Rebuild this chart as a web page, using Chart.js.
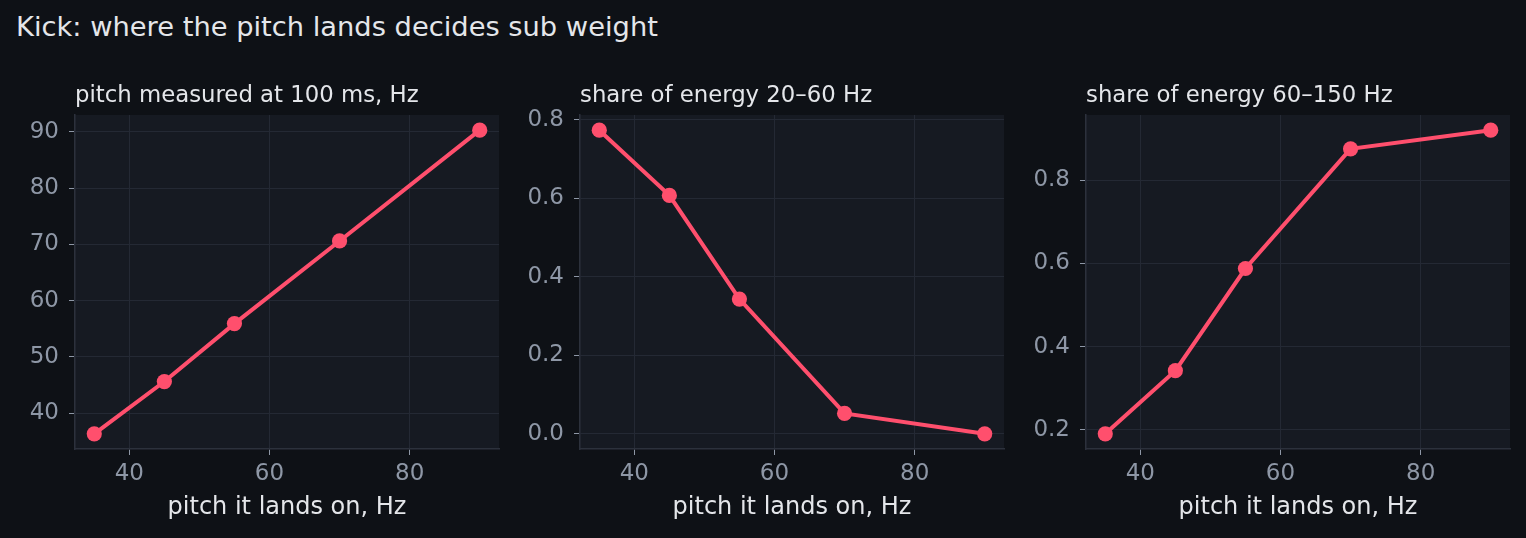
<!DOCTYPE html>
<html>
<head>
<meta charset="utf-8">
<script src="https://cdn.jsdelivr.net/npm/chart.js@4.4.1/dist/chart.umd.min.js"></script>
<style>
  body { margin: 0; background: #0e1116; width: 1526px; height: 538px; overflow: hidden; position: relative; font-family: "DejaVu Sans", sans-serif; }
  #title { position: absolute; left: 16px; top: 11px; font-size: 27.3px; line-height: 32px; color: #e4e6ea; white-space: nowrap; }
  .panel { position: absolute; top: 70px; width: 510px; height: 468px; }
</style>
</head>
<body>
<div id="title">Kick: where the pitch lands decides sub weight</div>
<div class="panel" style="left:0px"><canvas id="c1"></canvas></div>
<div class="panel" style="left:505px"><canvas id="c2"></canvas></div>
<div class="panel" style="left:1011px"><canvas id="c3"></canvas></div>
<script>
// data
const pitchLanded = [35, 45, 55, 70, 90];
const pitchAt100ms = [36.3, 45.6, 55.9, 70.6, 90.3];
const shareSub = [0.773, 0.607, 0.343, 0.052, 0.0];
const shareLow = [0.190, 0.342, 0.588, 0.876, 0.921];

const xTicks = [40, 60, 80];
const yTicks1 = [40, 50, 60, 70, 80, 90];
const yTicks2 = [0, 0.2, 0.4, 0.6, 0.8];
const yTicks3 = [0.2, 0.4, 0.6, 0.8];

const panelTitles = ['pitch measured at 100 ms, Hz', 'share of energy 20\u201360 Hz', 'share of energy 60\u2013150 Hz'];
const xLabel = 'pitch it lands on, Hz';

const LINE = '#ff4f6d';
const TICK_TXT = '#8e97a6';
const GRID = '#242934';

Chart.defaults.font.family = '"DejaVu Sans", sans-serif';

// matplotlib-like 5% margins
function padRange(vals) {
  const lo = Math.min(...vals), hi = Math.max(...vals);
  const m = (hi - lo) * 0.05;
  return [lo - m, hi + m];
}

const panelBg = {
  id: 'panelBg',
  beforeDraw(chart) {
    const a = chart.chartArea, ctx = chart.ctx;
    ctx.save();
    ctx.fillStyle = '#161a22';
    ctx.fillRect(a.left, a.top, a.right - a.left, a.bottom - a.top);
    ctx.restore();
  },
  afterDraw(chart, args, opts) {
    const a = chart.chartArea, ctx = chart.ctx;
    ctx.save();
    ctx.font = '22.8px "DejaVu Sans"';
    ctx.fillStyle = '#e4e6ea';
    ctx.textBaseline = 'alphabetic';
    ctx.fillText(opts.text, a.left, a.top - 13);
    ctx.restore();
  }
};

function makePanel(id, yVals, yTicks, title, fmt) {
  const xr = padRange(pitchLanded);
  const yr = padRange(yVals);
  return new Chart(document.getElementById(id), {
    type: 'line',
    data: {
      datasets: [{
        data: pitchLanded.map((x, i) => ({ x: x, y: yVals[i] })),
        borderColor: LINE,
        backgroundColor: LINE,
        borderWidth: 4,
        pointRadius: 7.6,
        pointBorderWidth: 0,
        pointBackgroundColor: LINE,
        tension: 0
      }]
    },
    options: {
      responsive: true,
      maintainAspectRatio: false,
      animation: false,
      layout: { padding: { top: 45, right: 11, left: 0, bottom: 0 } },
      plugins: {
        legend: { display: false },
        tooltip: { enabled: false },
        panelBg: { text: title }
      },
      scales: {
        x: {
          type: 'linear',
          min: xr[0], max: xr[1],
          afterBuildTicks: s => { s.ticks = xTicks.map(v => ({ value: v })); },
          afterFit: s => { s.height = 89; },
          grid: { color: GRID, tickColor: TICK_TXT, tickLength: 6, lineWidth: 1 },
          border: { color: '#2c313c', width: 1.5 },
          ticks: { color: TICK_TXT, font: { size: 23 }, padding: 5, maxRotation: 0 },
          title: { display: true, text: xLabel, color: '#e4e6ea', font: { size: 24 }, padding: { top: 0, bottom: 16 } }
        },
        y: {
          type: 'linear',
          min: yr[0], max: yr[1],
          afterBuildTicks: s => { s.ticks = yTicks.map(v => ({ value: v })); },
          afterFit: s => { s.width = 75; },
          grid: { color: GRID, tickColor: TICK_TXT, tickLength: 6, lineWidth: 1 },
          border: { color: '#2c313c', width: 1.5 },
          ticks: { color: TICK_TXT, font: { size: 23 }, padding: 10, callback: v => fmt(v) }
        }
      }
    },
    plugins: [panelBg]
  });
}

makePanel('c1', pitchAt100ms, yTicks1, panelTitles[0], v => String(Math.round(v)));
makePanel('c2', shareSub, yTicks2, panelTitles[1], v => v.toFixed(1));
makePanel('c3', shareLow, yTicks3, panelTitles[2], v => v.toFixed(1));
</script>
</body>
</html>
